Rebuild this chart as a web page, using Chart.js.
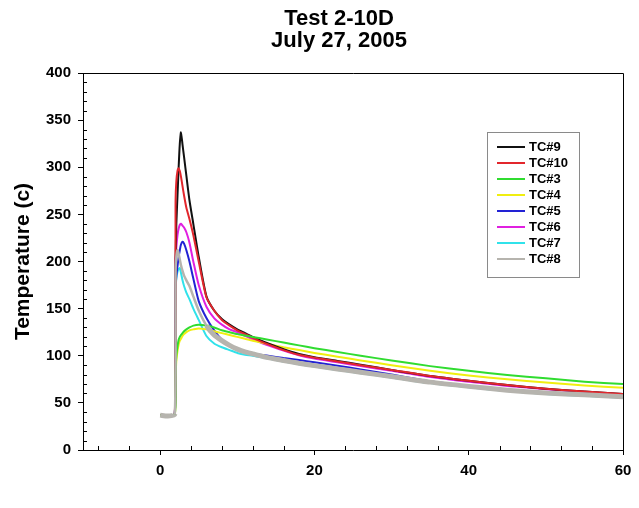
<!DOCTYPE html>
<html>
<head>
<meta charset="utf-8">
<script src="https://cdn.jsdelivr.net/npm/chart.js@4/dist/chart.umd.min.js"></script>
<style>
  html, body { margin: 0; padding: 0; background: #fff; }
  #wrap { width: 639px; height: 508px; position: relative; }
</style>
</head>
<body>
<div id="wrap"><canvas id="c" width="639" height="508"></canvas></div>
<script>
// ---------- DATA ----------
const TITLE_LINES = ["Test 2-10D", "July 27, 2005"];
const Y_TITLE = "Temperature (c)";
const X_TICKS = [0, 20, 40, 60];

const time = [0, 1, 1.9, 2.0, 2.1, 2.25, 2.4, 2.55, 2.7, 2.9, 3.1, 3.4, 3.8, 4.3, 5, 6, 7, 8, 9, 10, 11, 12, 14, 16, 18, 20, 23, 26, 30, 35, 40, 45, 50, 55, 60];

const tc9  = [37, 36, 38, 200, 240, 270, 300, 325, 337, 324, 311, 291, 265, 240, 205, 163, 148, 139, 133, 128, 124, 120, 113, 107, 102, 98.5, 94.5, 90.5, 85, 78.5, 73.5, 69, 65, 62, 59.5];
const tc10 = [37, 36, 38, 265, 285, 296, 299, 296, 290, 280, 270, 257, 245, 228, 200, 162, 148, 138, 132, 127, 123, 119, 112, 106, 101, 98, 94, 90, 85, 78.5, 73.5, 69, 65, 62, 59.5];
const tc3  = [37, 36, 38, 80, 100, 110, 117, 120, 122, 124, 126, 128, 130, 132, 133, 132, 130, 127, 125, 123, 121.5, 120, 117, 114, 111, 108, 104, 100, 95, 89, 84, 79.5, 76, 72.5, 70];
const tc4  = [37, 36, 38, 75, 95, 105, 112, 116, 118, 121, 123, 125, 127, 128, 129, 128, 126, 124, 122, 120, 118, 116, 112.5, 109, 106, 103, 99, 95, 90, 84, 79, 75, 71.5, 68.5, 66];
const tc5  = [37, 36, 38, 170, 185, 195, 205, 212, 218, 221, 219, 212, 200, 182, 158, 140, 127, 117, 111, 107, 104.5, 102.5, 100, 97.5, 95.5, 93, 89.5, 85.5, 80, 73, 68, 64, 61, 58.5, 56.5];
const tc6  = [37, 36, 38, 200, 215, 228, 235, 239, 240, 238, 236, 231, 220, 200, 175, 152, 140, 133, 128, 125, 121, 117.5, 111, 105.5, 100.5, 97, 93, 89, 84, 77.5, 72.5, 68, 64.5, 61.5, 59];
const tc7  = [37, 36, 38, 170, 182, 189, 192, 193, 188, 180, 174, 167, 160, 150, 138, 121, 113, 109, 106, 103, 101, 100, 97, 94, 91, 88.5, 85, 81.5, 77, 71, 66.5, 62.5, 59.5, 57.5, 55.5];
const tc8  = [37, 36, 38, 190, 205, 212, 208, 202, 196, 190, 185, 180, 174, 163, 148, 132, 122, 116, 111, 107, 104, 102, 98, 95, 92, 89.5, 86, 82.5, 78, 72, 67.5, 63.5, 60.5, 58.5, 56.5];

const seriesNames  = ["TC#9", "TC#10", "TC#3", "TC#4", "TC#5", "TC#6", "TC#7", "TC#8"];
const seriesValues = [tc9, tc10, tc3, tc4, tc5, tc6, tc7, tc8];
const seriesColors = ["#111111", "#e2262c", "#30dc30", "#f0ee10", "#2222d4", "#e020e0", "#30e2ea", "#b6b4ae"];
const seriesWidths = [2, 2, 2, 2, 2, 2, 2, 5];
const seriesOrder  = [3, 2, 1, 4, 5, 6, 7, 0];

// ---------- CHART ----------
const FONT = "'Liberation Sans', Arial, sans-serif";

const datasets = seriesNames.map((name, i) => {
  const w = seriesWidths[i];
  return {
    label: name,
    data: time.map((t, k) => ({ x: t, y: seriesValues[i][k] })),
    borderColor: seriesColors[i],
    backgroundColor: seriesColors[i],
    borderWidth: w,
    pointRadius: 0,
    tension: 0.2,
    fill: false,
    order: seriesOrder[i],
    segment: {
      borderWidth: (c) => (w > 2 && c.p0.parsed.x >= 1.9 && c.p1.parsed.x <= 6) ? 2.5 : w
    }
  };
});

const framePlugin = {
  id: 'frameAndExtras',
  afterDatasetsDraw(chart) {
    const { ctx, chartArea: a, scales } = chart;
    const xs = scales.x, ys = scales.y;
    ctx.save();
    // top and right frame
    ctx.strokeStyle = '#000';
    ctx.lineWidth = 1;
    ctx.beginPath();
    ctx.moveTo(a.left, a.top + 0.5);
    ctx.lineTo(a.right + 0.5, a.top + 0.5);
    ctx.lineTo(a.right + 0.5, a.bottom);
    ctx.stroke();
    // minor ticks (inside)
    ctx.beginPath();
    for (let v = -8; v < 60; v += 4) {
      if (v % 20 === 0) continue;
      const px = Math.round(xs.getPixelForValue(v)) + 0.5;
      ctx.moveTo(px, a.bottom);
      ctx.lineTo(px, a.bottom - 4);
    }
    for (let v = 10; v < 400; v += 10) {
      if (v % 50 === 0) continue;
      const py = Math.round(ys.getPixelForValue(v)) + 0.5;
      ctx.moveTo(a.left, py);
      ctx.lineTo(a.left + 4, py);
    }
    ctx.stroke();

    // legend
    const lx = 487, ly = 132, lw = 92, lh = 145;
    ctx.strokeStyle = '#8a8a8a';
    ctx.strokeRect(lx + 0.5, ly + 0.5, lw, lh);
    ctx.font = "bold 13px " + FONT;
    ctx.textBaseline = 'middle';
    ctx.textAlign = 'left';
    chart.data.datasets.forEach((ds, i) => {
      const y = ly + 15 + i * 16;
      ctx.strokeStyle = ds.borderColor;
      ctx.lineWidth = 2;
      ctx.beginPath();
      ctx.moveTo(lx + 10, y);
      ctx.lineTo(lx + 38, y);
      ctx.stroke();
      ctx.fillStyle = '#000';
      ctx.fillText(ds.label, lx + 42, y + 0.5);
    });

    // title
    ctx.fillStyle = '#000';
    ctx.font = "bold 22px " + FONT;
    ctx.textAlign = 'center';
    ctx.textBaseline = 'alphabetic';
    TITLE_LINES.forEach((line, i) => {
      ctx.fillText(line, 339, 25 + i * 22);
    });
    ctx.restore();
  }
};

new Chart(document.getElementById('c'), {
  type: 'line',
  data: { datasets },
  plugins: [framePlugin],
  options: {
    responsive: false,
    animation: false,
    layout: { padding: { top: 73, right: 16, left: 0, bottom: 0 } },
    plugins: { legend: { display: false }, title: { display: false }, tooltip: { enabled: false } },
    scales: {
      x: {
        type: 'linear',
        min: -10, max: 60,
        afterBuildTicks: (s) => { s.ticks = X_TICKS.map(v => ({ value: v })); },
        afterFit: (s) => { s.height = 58; },
        grid: { drawOnChartArea: false, drawTicks: true, tickLength: 5, color: '#000' },
        border: { display: true, color: '#000', width: 1 },
        ticks: { color: '#000', font: { family: FONT, size: 15, weight: 'bold' }, padding: 7, maxRotation: 0 }
      },
      y: {
        type: 'linear',
        min: 0, max: 400,
        ticks: { stepSize: 50, color: '#000', font: { family: FONT, size: 15, weight: 'bold' }, padding: 7 },
        afterFit: (s) => { s.width = 83; },
        grid: { drawOnChartArea: false, drawTicks: true, tickLength: 5, color: '#000' },
        border: { display: true, color: '#000', width: 1 },
        title: { display: true, text: Y_TITLE, color: '#000', font: { family: FONT, size: 21, weight: 'bold' }, padding: { top: 11, bottom: 0 } }
      }
    }
  }
});
</script>
</body>
</html>
